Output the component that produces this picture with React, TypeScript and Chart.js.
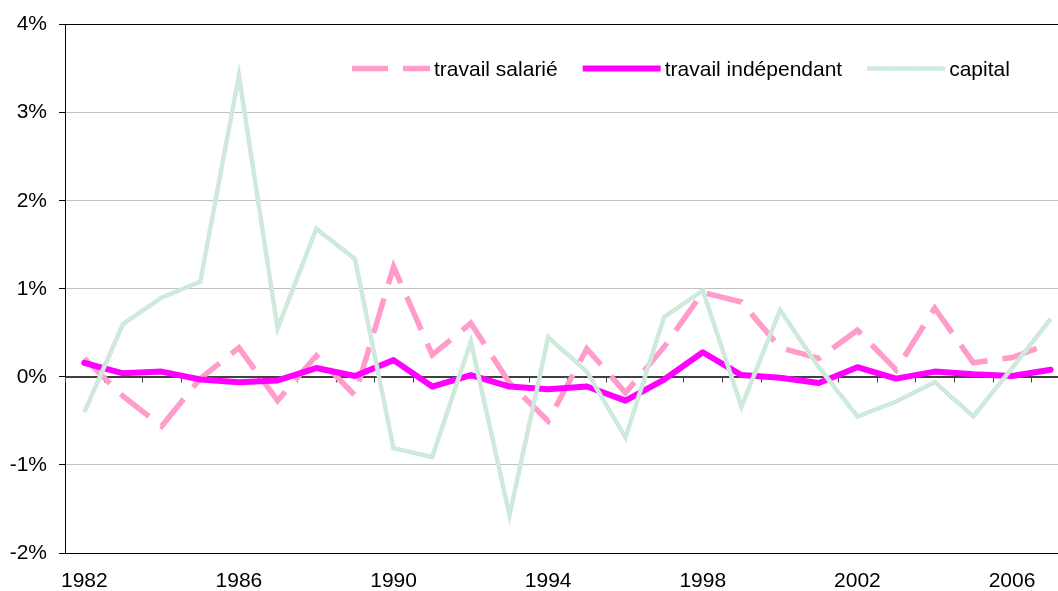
import React, { useEffect, useRef } from "react";
import { Chart, registerables } from "chart.js";

Chart.register(...registerables);

const years = [
  "1982", "1983", "1984", "1985", "1986", "1987", "1988", "1989", "1990",
  "1991", "1992", "1993", "1994", "1995", "1996", "1997", "1998", "1999",
  "2000", "2001", "2002", "2003", "2004", "2005", "2006", "2007",
];

const travailSalarie = [
  0.21, -0.22, -0.56, -0.02, 0.33, -0.27, 0.24, -0.21, 1.25, 0.25, 0.61, -0.07,
  -0.5, 0.32, -0.18, 0.34, 0.96, 0.85, 0.33, 0.21, 0.53, 0.08, 0.78, 0.16, 0.22, 0.38,
];

const travailIndependant = [
  0.16, 0.04, 0.06, -0.03, -0.06, -0.04, 0.1, 0.01, 0.19, -0.11, 0.02, -0.11,
  -0.14, -0.11, -0.27, -0.03, 0.28, 0.02, -0.01, -0.07, 0.11, -0.02, 0.06, 0.03, 0.01, 0.08,
];

const capital = [
  -0.4, 0.6, 0.9, 1.08, 3.42, 0.55, 1.68, 1.34, -0.81, -0.91, 0.4, -1.57,
  0.45, 0.06, -0.69, 0.68, 0.98, -0.34, 0.76, 0.11, -0.45, -0.28, -0.06, -0.45, 0.1, 0.66,
];

const seriesLabels = ["travail salarié", "travail indépendant", "capital"];
const yMin = -2;
const yMax = 4;
const yStep = 1;

const FONT = '"Liberation Sans", Arial, sans-serif';
const FONT_SIZE = 21;

function makeStripePattern(ctx: CanvasRenderingContext2D): CanvasPattern | string {
  const c = document.createElement("canvas");
  c.width = 3;
  c.height = 3;
  const g = c.getContext("2d");
  if (!g) return "#cfe8d9";
  g.fillStyle = "#d9efe3";
  g.fillRect(0, 0, 3, 3);
  g.fillStyle = "#bcdfcb";
  g.fillRect(0, 0, 1, 1);
  g.fillRect(1, 1, 1, 1);
  g.fillRect(2, 2, 1, 1);
  const p = ctx.createPattern(c, "repeat");
  return p || "#cfe8d9";
}

const zeroLinePlugin = {
  id: "zeroLineTicks",
  beforeDatasetsDraw(chart: any) {
    const xs = chart.scales.x;
    const ys = chart.scales.y;
    const ctx = chart.ctx as CanvasRenderingContext2D;
    const y0 = Math.round(ys.getPixelForValue(0)) + 0.5;
    const n = years.length;
    const step = xs.getPixelForValue(1) - xs.getPixelForValue(0);
    ctx.save();
    ctx.strokeStyle = "#404040";
    ctx.lineWidth = 1;
    ctx.beginPath();
    ctx.moveTo(chart.chartArea.left, y0);
    ctx.lineTo(chart.chartArea.right, y0);
    for (let i = 0; i <= n; i++) {
      const px = Math.round(xs.getPixelForValue(0) - step / 2 + i * step) + 0.5;
      ctx.moveTo(px, y0);
      ctx.lineTo(px, y0 + 5);
    }
    ctx.stroke();
    ctx.restore();
  },
};

const legendPlugin = {
  id: "customLegend",
  afterDatasetsDraw(chart: any) {
    const ctx = chart.ctx as CanvasRenderingContext2D;
    const datasets = chart.data.datasets;
    let x = 352;
    const yLine = 68.5;
    const sample = 78;
    ctx.save();
    ctx.font = `${FONT_SIZE}px ${FONT}`;
    ctx.textBaseline = "middle";
    ctx.textAlign = "left";
    datasets.forEach((ds: any) => {
      ctx.save();
      ctx.strokeStyle = ds.borderColor;
      ctx.lineWidth = ds.borderWidth;
      ctx.lineCap = "butt";
      ctx.setLineDash(ds.borderDash || []);
      ctx.beginPath();
      ctx.moveTo(x, yLine);
      ctx.lineTo(x + sample, yLine);
      ctx.stroke();
      ctx.restore();
      const tx = x + sample + 4;
      ctx.fillStyle = "#000";
      ctx.fillText(ds.label, tx, yLine + 1.5);
      x = tx + ctx.measureText(ds.label).width + 25;
    });
    ctx.restore();
  },
};

export default function App() {
  const canvasRef = useRef<HTMLCanvasElement | null>(null);

  useEffect(() => {
    const canvas = canvasRef.current;
    if (!canvas) return;
    const ctx = canvas.getContext("2d");
    if (!ctx) return;
    const stripe = makeStripePattern(ctx);

    const chart = new Chart(canvas, {
      type: "line",
      data: {
        labels: years,
        datasets: [
          {
            label: seriesLabels[0],
            data: travailSalarie,
            borderColor: "#ff9ccb",
            borderWidth: 5.5,
            borderDash: [36, 15],
            borderCapStyle: "butt",
            borderJoinStyle: "miter",
            pointRadius: 0,
            tension: 0,
            fill: false,
            order: 2,
          },
          {
            label: seriesLabels[1],
            data: travailIndependant,
            borderColor: "#ff00ff",
            borderWidth: 6,
            borderJoinStyle: "round",
            borderCapStyle: "round",
            pointRadius: 0,
            tension: 0,
            fill: false,
            order: 1,
          },
          {
            label: seriesLabels[2],
            data: capital,
            borderColor: stripe as any,
            borderWidth: 4.5,
            borderJoinStyle: "miter",
            pointRadius: 0,
            tension: 0,
            fill: false,
            order: 0,
          },
        ],
      },
      options: {
        responsive: false,
        animation: false,
        devicePixelRatio: 1,
        layout: { padding: { left: 0, right: 10, top: 24, bottom: 0 } },
        plugins: {
          legend: { display: false },
          tooltip: { enabled: false },
        },
        scales: {
          x: {
            type: "category",
            offset: true,
            grid: { display: false },
            border: { display: true, color: "#000", width: 1 },
            ticks: {
              autoSkip: false,
              maxRotation: 0,
              minRotation: 0,
              padding: 8,
              color: "#000",
              font: { family: FONT, size: FONT_SIZE },
              callback: (_v: any, i: number) => (i % 4 === 0 ? years[i] : ""),
            },
            afterFit: (s: any) => {
              s.height = 38;
            },
          },
          y: {
            min: yMin,
            max: yMax,
            ticks: {
              stepSize: yStep,
              padding: 12,
              color: "#000",
              font: { family: FONT, size: FONT_SIZE },
              callback: (v: any) => `${v}%`,
            },
            grid: {
              color: (c: any) => {
                const v = c.tick ? c.tick.value : null;
                if (v === yMax || v === yMin) return "#000";
                if (v === 0) return "#404040";
                return "#c0c0c0";
              },
              tickColor: "#000",
              tickLength: 6,
            },
            border: { display: true, color: "#000", width: 1 },
            afterFit: (s: any) => {
              s.width = 65;
            },
          },
        },
      },
      plugins: [zeroLinePlugin, legendPlugin],
    });

    return () => {
      chart.destroy();
    };
  }, []);

  return (
    <div
      style={{
        position: "fixed",
        left: 0,
        top: 0,
        width: 1058,
        height: 591,
        overflow: "hidden",
        background: "#fff",
      }}
    >
      <canvas
        ref={canvasRef}
        width={1080}
        height={591}
        style={{ display: "block", width: 1080, height: 591 }}
      />
    </div>
  );
}
